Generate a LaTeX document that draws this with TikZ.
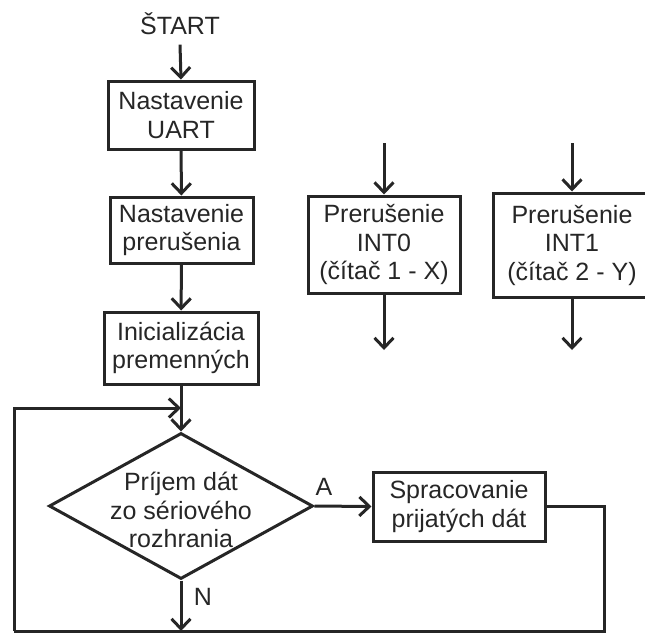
\documentclass[tikz,border=0pt]{standalone}
\usepackage{fontspec}
\setmainfont{Liberation Sans}
\usetikzlibrary{arrows.meta,shapes.geometric}
\begin{document}
\begin{tikzpicture}[x=1pt,y=-1pt,
  every node/.style={font=\fontsize{25}{28.5}\selectfont, text=black!85},
  box/.style={draw=black!85, line width=3pt, align=center, inner sep=0pt},
  dec/.style={draw=black!85, line width=3pt, diamond, inner sep=0pt},
  ln/.style={draw=black!85, line width=3pt},
  arr/.style={draw=black!85, line width=3pt, -{Straight Barb[length=10pt,width=19pt,line width=3pt]}}
]
\useasboundingbox (0,0) rectangle (645,633);
\node (start) at (180,24) {ŠTART};
\node[box, minimum width=146pt, minimum height=68pt] (b1) at (181,115) {Nastavenie\\UART};
\node[box, minimum width=143pt, minimum height=66pt] (b2) at (181.5,230) {Nastavenie\\prerušenia};
\node[box, minimum width=154pt, minimum height=72pt] (b3) at (181,348) {Inicializácia\\premenných};
\node[dec, minimum width=264pt, minimum height=146pt] (d) at (181,506) {};
\node[align=center] (dt) at (181,510) {Príjem dát\\zo sériového\\rozhrania};
\node[box, minimum width=172pt, minimum height=69pt] (sp) at (459,506.5) {Spracovanie\\prijatých dát};
\node[box, minimum width=152pt, minimum height=97pt] (i0) at (384,244.5) {Prerušenie\\INT0\\(čítač 1 - X)};
\node[box, minimum width=158pt, minimum height=104pt] (i1) at (572,245) {Prerušenie\\INT1\\(čítač 2 - Y)};
\node (la) at (324,487) {A};
\node (lN) at (203,597) {N};

\coordinate (bl) at (14,631);
\coordinate (br) at (604,631);
\coordinate (j) at (181,408);
\coordinate (i0in) at (384,143);
\coordinate (i0out) at (384,350);
\coordinate (i1in) at (572,143);
\coordinate (i1out) at (572,350);

\draw[arr] ([yshift=-6pt]start.south) -- (b1.north);
\draw[arr] (b1) -- (b2);
\draw[arr] (b2) -- (b3);
\draw[arr] (b3) -- (d.north);
\draw[arr] (d.east) -- (sp.west);
\draw[ln] (sp.east) -| (br) -- (bl);
\draw[arr] (d.south) -- (d.south |- bl);
\draw[arr] (bl) |- (j);
\draw[arr] (i0in) -- (i0.north);
\draw[arr] (i0.south) -- (i0out);
\draw[arr] (i1in) -- (i1.north);
\draw[arr] (i1.south) -- (i1out);
\end{tikzpicture}
\end{document}
